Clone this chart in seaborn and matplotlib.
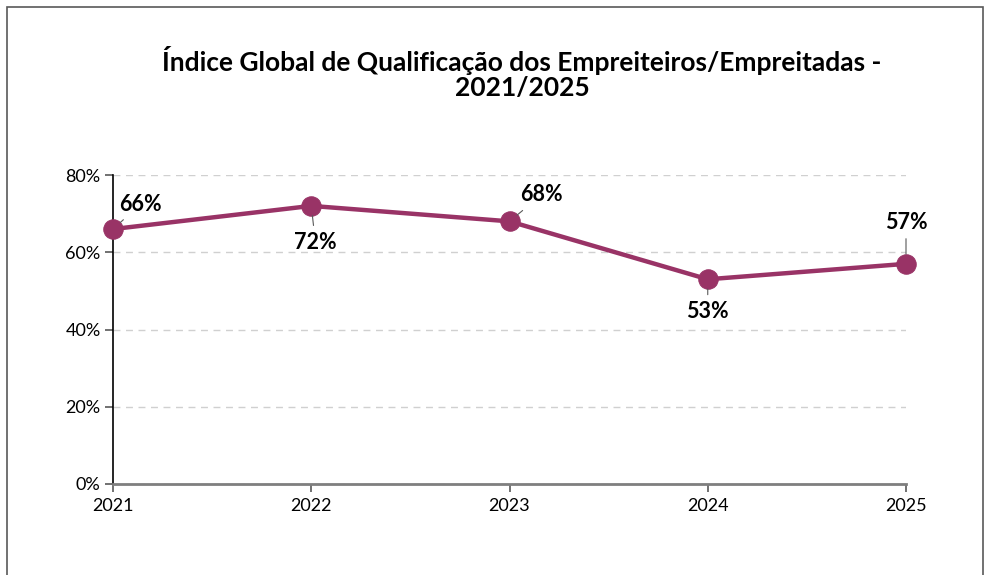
import matplotlib
matplotlib.use("Agg")
import matplotlib.pyplot as plt
import seaborn as sns
import pandas as pd
from matplotlib.patches import Rectangle
from matplotlib.ticker import PercentFormatter

years = [2021, 2022, 2023, 2024, 2025]
values = [0.66, 0.72, 0.68, 0.53, 0.57]
labels = ["66%", "72%", "68%", "53%", "57%"]
title = "Índice Global de Qualificação dos Empreiteiros/Empreitadas -\n2021/2025"

sns.set_theme(style="white")
plt.rcParams['font.family'] = ['Lato', 'DejaVu Sans']

df = pd.DataFrame({"Ano": years, "Índice": values})
color = "#993366"

fig = plt.figure(figsize=(9.84, 5.75), dpi=100)
ax = fig.add_axes([113/984, 91/575, 793/984, 309/575])

sns.lineplot(data=df, x="Ano", y="Índice", ax=ax, color=color, linewidth=3.2,
             marker="o", markersize=14, markeredgecolor=color, clip_on=False, zorder=5)

ax.set_xlim(2021, 2025)
ax.set_ylim(0, 0.8)
ax.set_xticks(years)
ax.set_xticklabels([str(y) for y in years])
ax.set_yticks([0, 0.2, 0.4, 0.6, 0.8])
ax.yaxis.set_major_formatter(PercentFormatter(1.0, decimals=0))
ax.set_xlabel("")
ax.set_ylabel("")

ax.grid(axis="y", color="#d0d0d0", linestyle=(0, (5, 4)), linewidth=1)
ax.grid(axis="x", visible=False)
for s in ["top", "right"]:
    ax.spines[s].set_visible(False)
ax.spines["left"].set_color("black")
ax.spines["left"].set_linewidth(1.2)
ax.spines["bottom"].set_color("#7f7f7f")
ax.spines["bottom"].set_linewidth(2)
ax.tick_params(axis="y", which="major", left=True, length=6, width=1.2, color="#595959",
               labelsize=13, labelcolor="black", pad=3)
ax.tick_params(axis="x", which="major", bottom=True, length=6, width=1.2, color="#595959",
               labelsize=13, labelcolor="black", pad=4)

offsets = [(20, 18), (3, -26), (23, 19), (0, -23), (0, 30)]
for x, y, lab, off in zip(years, values, labels, offsets):
    ax.annotate(lab, (x, y), xytext=off, textcoords="offset points",
                ha="center", va="center", fontsize=15.5, fontweight="bold", color="black",
                arrowprops=dict(arrowstyle="-", color="#595959", lw=0.8, shrinkA=2, shrinkB=7),
                annotation_clip=False, zorder=6)

fig.text(522/984, 1 - 73/575, title, ha="center", va="center", fontsize=19,
         fontweight="bold", color="black", linespacing=1.05)

fig.patches.append(Rectangle((7/984, -0.05), 976/984, 1.05 - 7/575, transform=fig.transFigure,
                             fill=False, edgecolor="#595959", linewidth=1.2))

fig.savefig("out.png", dpi=100)
